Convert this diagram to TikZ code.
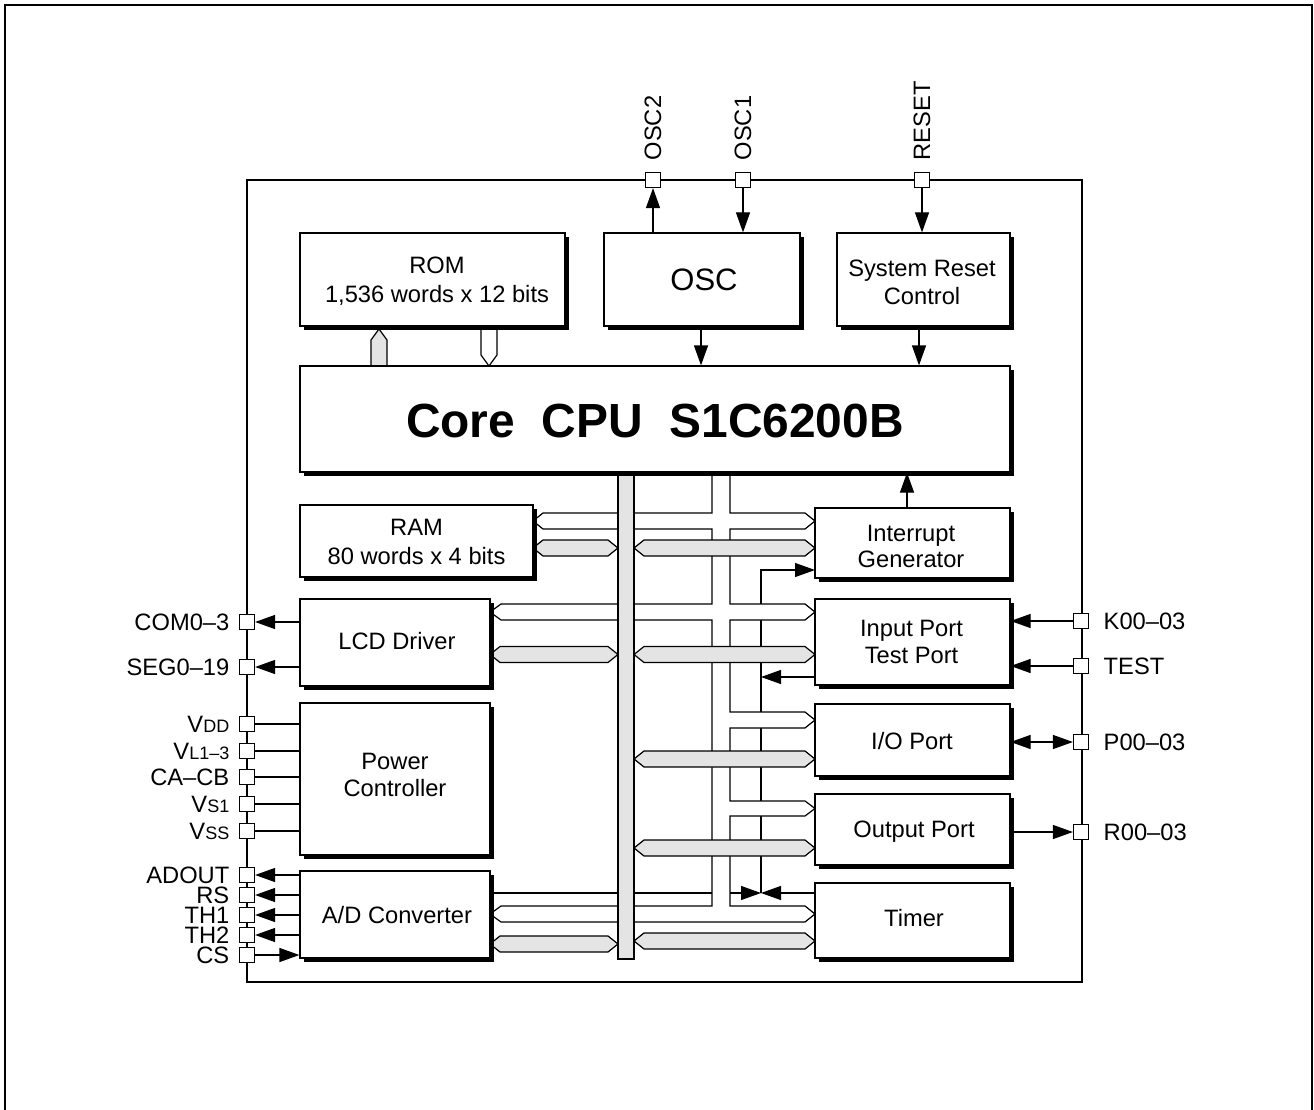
\documentclass[tikz,border=0pt]{standalone}
\usepackage{fontspec}
\setmainfont{Liberation Sans}
\usetikzlibrary{arrows.meta,positioning,shadows}
\definecolor{busgray}{HTML}{E4E4E4}
\newcommand{\graybus}[3]{\draw[fill=busgray] (#1,#3) -- ({#1+10},{#3-8}) -- ({#2-10},{#3-8}) -- (#2,#3) -- ({#2-10},{#3+8}) -- ({#1+10},{#3+8}) -- cycle;}

\begin{document}
\begin{tikzpicture}[
    x=1pt, y=-1pt,
    line width=1.2pt,
    font=\fontsize{23.7}{28}\selectfont,
    blockbox/.style={draw, fill=white, align=center, inner sep=0pt, drop shadow={shadow xshift=3.5pt, shadow yshift=-3.5pt, fill=black, opacity=1}},
    boxtext/.style={align=center, inner sep=0pt},
    padbox/.style={draw, fill=white, minimum size=15pt, inner sep=0pt},
    leftlabel/.style={inner sep=0pt, left=9pt of #1},
    rightlabel/.style={inner sep=0pt, right=14pt of #1},
    toplabel/.style={inner sep=0pt, rotate=90, anchor=west},
    sigline/.style={-{Triangle[length=20pt,width=14pt]}},
    bothline/.style={{Triangle[length=20pt,width=14pt]}-{Triangle[length=20pt,width=14pt]}}
]
    \useasboundingbox (0,0) rectangle (1314,1110);

    % page frame and chip outline
    \draw (5,1110) -- (5,5) -- (1312,5) -- (1312,1110);
    \node[draw, minimum width=835pt, minimum height=802pt] (chip) at (664.5,581) {};

    % pads on the top
    \node[padbox] (pOSC2) at (653,180) {};
    \node[padbox] (pOSC1) at (743,180) {};
    \node[padbox] (pRESET) at (922,180) {};
    \node[toplabel] (tOSC2) at ([yshift=11pt]pOSC2.north) {OSC2};
    \node[toplabel] (tOSC1) at ([yshift=11pt]pOSC1.north) {OSC1};
    \node[toplabel] (tRESET) at ([yshift=11pt]pRESET.north) {RESET};

    % pads on the left
    \node[padbox] (pCOM) at (247,622) {};
    \node[padbox] (pSEG) at (247,667) {};
    \node[padbox] (pVDD) at (247,724) {};
    \node[padbox] (pVL) at (247,751) {};
    \node[padbox] (pCA) at (247,777) {};
    \node[padbox] (pVS) at (247,804) {};
    \node[padbox] (pVSS) at (247,831) {};
    \node[padbox] (pADOUT) at (247,875) {};
    \node[padbox] (pRS) at (247,895) {};
    \node[padbox] (pTHa) at (247,915) {};
    \node[padbox] (pTHb) at (247,935) {};
    \node[padbox] (pCS) at (247,955) {};
    \node[leftlabel=pCOM] (tCOM) {COM0–3};
    \node[leftlabel=pSEG] (tSEG) {SEG0–19};
    \node[leftlabel=pVDD] (tVDD) {V{\fontsize{18}{20}\selectfont DD}};
    \node[leftlabel=pVL] (tVL) {V{\fontsize{18}{20}\selectfont L1–3}};
    \node[leftlabel=pCA] (tCA) {CA–CB};
    \node[leftlabel=pVS] (tVS) {V{\fontsize{18}{20}\selectfont S1}};
    \node[leftlabel=pVSS] (tVSS) {V{\fontsize{18}{20}\selectfont SS}};
    \node[leftlabel=pADOUT] (tADOUT) {ADOUT};
    \node[leftlabel=pRS] (tRS) {RS};
    \node[leftlabel=pTHa] (tTHa) {TH1};
    \node[leftlabel=pTHb] (tTHb) {TH2};
    \node[leftlabel=pCS] (tCS) {CS};

    % pads on the right
    \node[padbox] (pK) at (1081,621) {};
    \node[padbox] (pTEST) at (1081,666) {};
    \node[padbox] (pP) at (1081,742) {};
    \node[padbox] (pR) at (1081,832) {};
    \node[rightlabel=pK] (tK) {K00–03};
    \node[rightlabel=pTEST] (tTEST) {TEST};
    \node[rightlabel=pP] (tP) {P00–03};
    \node[rightlabel=pR] (tR) {R00–03};

    % control lines under the data bus
    \coordinate (tee) at (761,893);
    \coordinate (intin) at (815,570);
    \coordinate (testin) at (761,677);
    \draw[sigline] (tee) |- (intin);
    \draw (490,893) -- (712,893);

    % address and data bus, one outline from the CPU through every arm
    \draw[fill=white] (730,473) -- (730,513) -- (805,513) -- (815,521) -- (805,529)
        -- (730,529) -- (730,604) -- (805,604) -- (815,612) -- (805,620)
        -- (730,620) -- (730,712) -- (805,712) -- (815,720) -- (805,728)
        -- (730,728) -- (730,801) -- (805,801) -- (815,808.5) -- (805,816)
        -- (730,816) -- (730,906) -- (805,906) -- (815,914) -- (805,922)
        -- (501,922) -- (490,914) -- (501,906) -- (712,906)
        -- (712,620) -- (501,620) -- (490,612) -- (501,604) -- (712,604)
        -- (712,529) -- (543,529) -- (533,521) -- (543,513) -- (712,513)
        -- (712,473) -- cycle;

    % wide buses
    \graybus{533}{618}{548}
    \graybus{634}{815}{548}
    \graybus{490}{618}{654.5}
    \graybus{634}{815}{654.5}
    \graybus{634}{815}{759}
    \graybus{634}{815}{848}
    \graybus{634}{815}{941}
    \graybus{490}{618}{944}
    \node[draw, fill=busgray, minimum width=16pt, minimum height=486pt, inner sep=0pt] (busMain) at (626,716) {};

    % ROM buses
    \draw[fill=busgray] (371,366) -- (371,340) -- (379,329) -- (387,340) -- (387,366) -- cycle;
    \draw[fill=white] (481,326) -- (481,355) -- (489,366) -- (497,355) -- (497,326) -- cycle;

    % blocks
    \node[blockbox, minimum width=265pt, minimum height=93pt] (rom) at (432.5,279.5) {};
    \node[blockbox, minimum width=196pt, minimum height=93pt] (osc) at (702,279.5) {};
    \node[blockbox, minimum width=173pt, minimum height=93pt] (sysreset) at (923.5,279.5) {};
    \node[blockbox, minimum width=710pt, minimum height=106pt] (cpu) at (655,419) {};
    \node[blockbox, minimum width=233pt, minimum height=72pt] (ram) at (416.5,541) {};
    \node[blockbox, minimum width=190pt, minimum height=87pt] (lcd) at (395,642.5) {};
    \node[blockbox, minimum width=190pt, minimum height=152pt] (power) at (395,779) {};
    \node[blockbox, minimum width=190pt, minimum height=87pt] (adc) at (395,914.5) {};
    \node[blockbox, minimum width=195pt, minimum height=70pt] (int) at (912.5,543) {};
    \node[blockbox, minimum width=195pt, minimum height=86pt] (input) at (912.5,642) {};
    \node[blockbox, minimum width=195pt, minimum height=72pt] (ioport) at (912.5,740) {};
    \node[blockbox, minimum width=195pt, minimum height=71pt] (output) at (912.5,829.5) {};
    \node[blockbox, minimum width=195pt, minimum height=75pt] (timer) at (912.5,920.5) {};

    % block texts
    \node[boxtext, font=\fontsize{23.7}{29}\selectfont] (tRom) at (437,281) {ROM\\1,536 words x 12 bits};
    \node[boxtext, font=\fontsize{31}{36}\selectfont] (tOsc) at (704,280) {OSC};
    \node[boxtext] (tSys) at (922,282) {System Reset\\Control};
    \node[boxtext, font=\fontsize{47.9}{54}\selectfont\bfseries] (tCpu) at (655,421) {Core\ \ CPU\ \ S1C6200B};
    \node[boxtext, font=\fontsize{23.7}{29}\selectfont] (tRam) at (416.5,542) {RAM\\80 words x 4 bits};
    \node[boxtext] (tLcd) at (397,641) {LCD Driver};
    \node[boxtext, font=\fontsize{23.7}{27}\selectfont] (tPower) at (395,775) {Power\\Controller};
    \node[boxtext] (tAdc) at (397,915) {A/D Converter};
    \node[boxtext, font=\fontsize{23.7}{26}\selectfont] (tInt) at (911,546) {Interrupt\\Generator};
    \node[boxtext, font=\fontsize{23.7}{27}\selectfont] (tInput) at (911.5,642) {Input Port\\Test Port};
    \node[boxtext] (tIo) at (912,741) {I/O Port};
    \node[boxtext] (tOut) at (914,832) {Output Port};
    \node[boxtext] (tTimer) at (914,918) {Timer};

    % top connections
    \draw[sigline] (pOSC2 |- osc.north) -- (pOSC2);
    \draw[sigline] (pOSC1) -- (pOSC1 |- osc.north);
    \draw[sigline] (pRESET) -- (pRESET |- sysreset.north);
    \draw[sigline] ([xshift=-1pt]osc.south) -- ([xshift=-1pt]osc.south |- cpu.north);
    \draw[sigline] ([xshift=-4.5pt]sysreset.south) -- ([xshift=-4.5pt]sysreset.south |- cpu.north);
    \draw[sigline] ([xshift=-5.5pt]int.north) -- ([xshift=-5.5pt]int.north |- cpu.south);

    % left connections
    \draw[sigline] (lcd.west |- pCOM) -- (pCOM);
    \draw[sigline] (lcd.west |- pSEG) -- (pSEG);
    \draw (pVDD) -- (power.west |- pVDD);
    \draw (pVL) -- (power.west |- pVL);
    \draw (pCA) -- (power.west |- pCA);
    \draw (pVS) -- (power.west |- pVS);
    \draw (pVSS) -- (power.west |- pVSS);
    \draw[sigline] (adc.west |- pADOUT) -- (pADOUT);
    \draw[sigline] (adc.west |- pRS) -- (pRS);
    \draw[sigline] (adc.west |- pTHa) -- (pTHa);
    \draw[sigline] (adc.west |- pTHb) -- (pTHb);
    \draw[sigline] (pCS) -- (adc.west |- pCS);

    % right connections
    \draw[sigline] (pK) -- (input.east |- pK);
    \draw[sigline] (pTEST) -- (input.east |- pTEST);
    \draw[bothline] (ioport.east |- pP) -- (pP);
    \draw[sigline] (output.east |- pR) -- (pR);

    % arrows meeting on the control line
    \draw[sigline] (input.west |- testin) -- (testin);
    \draw[sigline] (timer.west |- tee) -- (tee);
    \draw[sigline] (730,893) -- (tee);
\end{tikzpicture}
\end{document}
